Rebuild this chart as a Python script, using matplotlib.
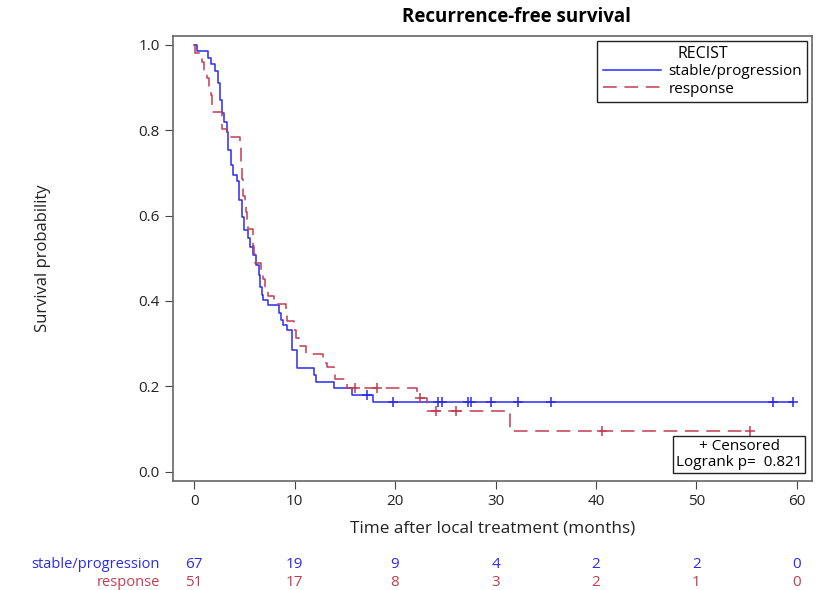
import numpy as np
import matplotlib.pyplot as plt
from matplotlib.lines import Line2D
from matplotlib.transforms import blended_transform_factory

plt.rcParams['font.family'] = ['Open Sans', 'DejaVu Sans']

# step curves (time in months, survival after the step)
stable_t = [0, 0.3, 1.4, 1.7, 2.1, 2.35, 2.6, 2.8, 3.0, 3.25, 3.41, 3.65, 3.91, 4.25, 4.51,
            4.75, 5.0, 5.34, 5.57, 5.84, 6.17, 6.5, 6.57, 6.74, 6.9, 7.4, 8.4, 8.63, 8.89,
            9.22, 9.72, 10.2, 11.9, 12.1, 13.9, 15.7, 17.8, 59.6]
stable_s = [1.0, 0.985, 0.970, 0.955, 0.940, 0.910, 0.870, 0.840, 0.820, 0.797, 0.754, 0.719,
            0.695, 0.680, 0.637, 0.597, 0.566, 0.547, 0.527, 0.508, 0.484, 0.461, 0.433, 0.414,
            0.402, 0.390, 0.371, 0.355, 0.343, 0.332, 0.285, 0.242, 0.226, 0.210, 0.195, 0.179,
            0.164, 0.164]
stable_cens_t = [17.2, 19.8, 24.3, 24.7, 27.3, 27.6, 29.5, 32.2, 35.5, 57.6, 59.6]
stable_cens_s = [0.179, 0.164, 0.164, 0.164, 0.164, 0.164, 0.164, 0.164, 0.164, 0.164, 0.164]

resp_t = [0, 0.1, 0.76, 0.95, 1.3, 1.5, 1.7, 1.75, 1.8, 2.75, 2.8, 3.25, 4.6, 4.65, 4.7, 4.75,
          4.8, 4.85, 4.9, 5.1, 5.15, 5.3, 5.4, 5.84, 5.9, 5.95, 6.1, 6.7, 6.85, 7.1, 7.4, 8.0,
          9.15, 9.2, 9.9, 10.1, 10.4, 11.1, 12.8, 13.2, 13.9, 14.0, 15.2, 22.2, 23.2, 31.4, 55.3]
resp_s = [1.0, 0.980, 0.961, 0.941, 0.922, 0.902, 0.882, 0.863, 0.843, 0.824, 0.804, 0.784,
          0.765, 0.745, 0.725, 0.706, 0.686, 0.667, 0.647, 0.627, 0.608, 0.588, 0.569, 0.549,
          0.529, 0.510, 0.490, 0.471, 0.451, 0.431, 0.412, 0.392, 0.373, 0.353, 0.333, 0.314,
          0.294, 0.275, 0.255, 0.245, 0.235, 0.216, 0.196, 0.172, 0.143, 0.0955, 0.0955]
resp_cens_t = [16.0, 18.2, 22.5, 24.1, 26.1, 40.6, 55.3]
resp_cens_s = [0.196, 0.196, 0.172, 0.143, 0.143, 0.0955, 0.0955]

risk_times = [0, 10, 20, 30, 40, 50, 60]
risk_stable = [67, 19, 9, 4, 2, 2, 0]
risk_resp = [51, 17, 8, 3, 2, 1, 0]

blue = '#2b2bf0'
red = '#c43d50'

fig = plt.figure(figsize=(8.18, 5.90), dpi=100)
ax = fig.add_axes([0.2115, 0.1847, 0.7812, 0.7543])

ax.plot(stable_t, stable_s, drawstyle='steps-post', color=blue, lw=1.1)
ax.plot(resp_t, resp_s, drawstyle='steps-post', color=red, lw=1.1, dashes=(9, 5))
ax.plot(stable_cens_t, stable_cens_s, ls='none', marker='+', ms=7, mew=1.1, color=blue)
ax.plot(resp_cens_t, resp_cens_s, ls='none', marker='+', ms=7, mew=1.1, color=red)

ax.set_xlim(-2.1, 61.5)
ax.set_ylim(-0.022, 1.021)
ax.set_xticks(risk_times)
ax.set_yticks([0.0, 0.2, 0.4, 0.6, 0.8, 1.0])
ax.set_yticklabels(['0.0', '0.2', '0.4', '0.6', '0.8', '1.0'])
ax.tick_params(labelsize=11, length=6, color='#444444', labelcolor='#222222')
for sp in ax.spines.values():
    sp.set_color('#666666')
    sp.set_linewidth(1.2)

ax.set_xlabel('Time after local treatment (months)', fontsize=12.3, color='#222222', labelpad=8)
ax.set_ylabel('Survival probability', fontsize=12, color='#222222', labelpad=63)
fig.text(516 / 818, 1 - 17 / 590, 'Recurrence-free survival', ha='center', va='center',
         fontsize=13.5, fontweight='bold')

handles = [Line2D([], [], color=blue, lw=1.1),
           Line2D([], [], color=red, lw=1.1, dashes=(9, 5))]
leg = ax.legend(handles, ['stable/progression', 'response'], title='RECIST', loc='upper right',
                fontsize=11, title_fontsize=11.5, fancybox=False, edgecolor='#222222',
                framealpha=1, borderaxespad=0.3, handlelength=3.8, handletextpad=0.5,
                borderpad=0.35, labelspacing=0.15)
leg.get_frame().set_linewidth(1.0)

ax.text(0.985, 0.025, '+ Censored\nLogrank p=  0.821', transform=ax.transAxes, ha='right',
        va='bottom', fontsize=11, multialignment='center', linespacing=1.1,
        bbox=dict(boxstyle='square,pad=0.2', fc='white', ec='#222222', lw=1.0))

# numbers at risk
tr = blended_transform_factory(ax.transData, fig.transFigure)
y1 = 1 - 565 / 590
y2 = 1 - 583 / 590
fig.text(160 / 818, y1, 'stable/progression', color=blue, ha='right', va='center', fontsize=10.5)
fig.text(160 / 818, y2, 'response', color=red, ha='right', va='center', fontsize=10.5)
for t, a, b in zip(risk_times, risk_stable, risk_resp):
    ax.text(t, y1, str(a), transform=tr, color=blue, ha='center', va='center', fontsize=11)
    ax.text(t, y2, str(b), transform=tr, color=red, ha='center', va='center', fontsize=11)

fig.savefig('out.png', dpi=100)
